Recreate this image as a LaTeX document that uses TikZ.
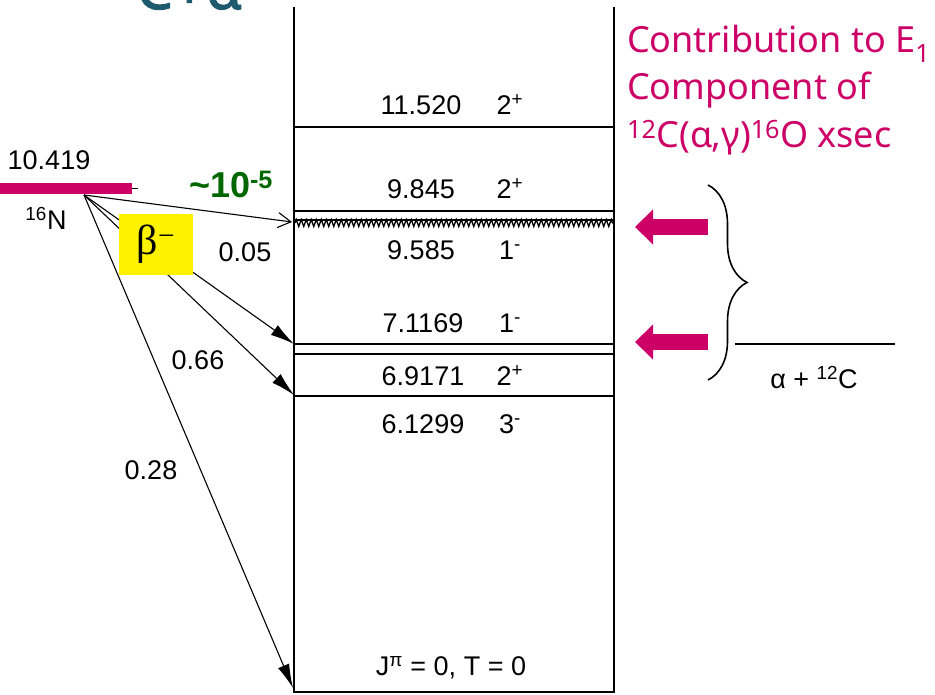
\documentclass[tikz,border=0pt]{standalone}
\usepackage{fontspec}
\setmainfont{Liberation Sans}
\newfontfamily\notosans{Noto Sans}
\newfontfamily\notoheavy[FakeBold=2]{Noto Sans}
\newfontfamily\greekserif{Liberation Serif}
\usetikzlibrary{arrows.meta, decorations.pathreplacing, decorations.pathmorphing, positioning}
\definecolor{levmag}{RGB}{204,0,102}
\definecolor{decgreen}{RGB}{0,102,0}
\definecolor{titleteal}{RGB}{31,90,110}

\begin{document}
\begin{tikzpicture}[
  x=1pt, y=1pt,
  lab/.style={font=\fontsize{27}{30}\selectfont, inner sep=0pt},
  level/.style={line width=1.6pt},
  decay/.style={line width=1.1pt, -{Latex[length=24pt,width=12pt]}},
  magtext/.style={font=\notosans\fontsize{36}{40}\selectfont, text=levmag, anchor=base west, inner sep=0pt},
  fatarrow/.style={line width=16pt, levmag, -{Triangle[length=18pt,width=34pt]}}
]
  \useasboundingbox (0,0) rectangle (935,695);

  % title, cut off by the top edge
  \node[font=\notoheavy\fontsize{58}{60}\selectfont, text=titleteal, anchor=base west, inner sep=0pt] (title) at (136,686) {C+α};

  % 16O level box
  \coordinate (tl) at (294,688);
  \coordinate (tr) at (614,688);
  \coordinate (bl) at (294,3);
  \coordinate (br) at (614,3);
  \draw[level] (tl) -- (bl) -- (br) -- (tr);
  \foreach \y in {568,484,475,351,341,299}
    \draw[level] (294,\y) -- (614,\y);
  \draw[line width=1.3pt, decorate, decoration={zigzag, segment length=5pt, amplitude=3.5pt}] (295,472) -- (613,472);

  % level energies and spins
  \node[lab] (e11520) at (421,590) {11.520};
  \node[lab] (e9845)  at (421,506) {9.845};
  \node[lab] (e9585)  at (421,445) {9.585};
  \node[lab] (e7117)  at (423,372) {7.1169};
  \node[lab] (e6917)  at (423,319) {6.9171};
  \node[lab] (e6130)  at (423,271) {6.1299};
  \node[lab] (j11520) at (510,590) {2\textsuperscript{+}};
  \node[lab] (j9845)  at (510,506) {2\textsuperscript{+}};
  \node[lab] (j9585)  at (510,445) {1\textsuperscript{-}};
  \node[lab] (j7117)  at (510,372) {1\textsuperscript{-}};
  \node[lab] (j6917)  at (510,319) {2\textsuperscript{+}};
  \node[lab] (j6130)  at (510,271) {3\textsuperscript{-}};
  \node[lab] (gs)     at (451,27)  {J\textsuperscript{π} = 0, T = 0};

  % 16N level
  \node[fill=levmag, minimum width=132pt, minimum height=11pt, inner sep=0pt, anchor=west] (nbar) at (0,506.5) {};
  \draw[line width=1pt] (nbar.east) -- ++(6,0);
  \node[lab] (nlev)  at (49,535) {10.419};
  \node[lab] (nname) at (46,477) {\textsuperscript{16}N};

  % beta branches
  \coordinate (src)   at (84,500);
  \coordinate (t9585) at (292,473);
  \coordinate (t7117) at (294,351);
  \coordinate (t6917) at (294,300);
  \coordinate (tgs)   at (293,7);
  \draw[decay] (src) -- (t7117);
  \draw[decay] (src) -- (t6917);
  \draw[decay] (src) -- (tgs);
  \draw[line width=1.1pt, -{Straight Barb[length=13pt,width=15pt]}] (src) -- (t9585);

  \node[fill=yellow, minimum width=74pt, minimum height=61pt, inner sep=0pt,
        font=\greekserif\fontsize{42}{44}\selectfont] (beta) at (156,450.5) {β\textsuperscript{−}};

  \node[font=\bfseries\fontsize{36}{38}\selectfont, text=decgreen, inner sep=0pt] (b5) at (231,510) {\textasciitilde10\textsuperscript{-5}};
  \node[lab] (f005) at (245,443) {0.05};
  \node[lab] (f066) at (198,335) {0.66};
  \node[lab] (f028) at (151,225) {0.28};

  % E1 arrows, brace and alpha threshold
  \coordinate (m1s) at (708,468);
  \coordinate (m1e) at (635,468);
  \coordinate (m2s) at (708,353);
  \coordinate (m2e) at (635,353);
  \draw[fatarrow] (m1s) -- (m1e);
  \draw[fatarrow] (m2s) -- (m2e);

  \coordinate (brtop) at (708,510);
  \coordinate (brbot) at (708,315);
  \draw[line width=1.6pt, decorate, decoration={brace, amplitude=39pt}] (brtop) -- (brbot);

  \coordinate (thrl) at (735,351);
  \coordinate (thrr) at (895,351);
  \draw[level] (thrl) -- (thrr);
  \node[lab] (thrlab) at (814,317) {α + \textsuperscript{12}C};

  % E1 text
  \node[magtext] (contrib) at (627,642) {Contribution to E\textsubscript{1}};
  \node[magtext] (comp)    at (627,595) {Component of};
  \node[magtext] (xsec)    at (627,547) {\textsuperscript{12}C(α,γ)\textsuperscript{16}O xsec};
\end{tikzpicture}
\end{document}
